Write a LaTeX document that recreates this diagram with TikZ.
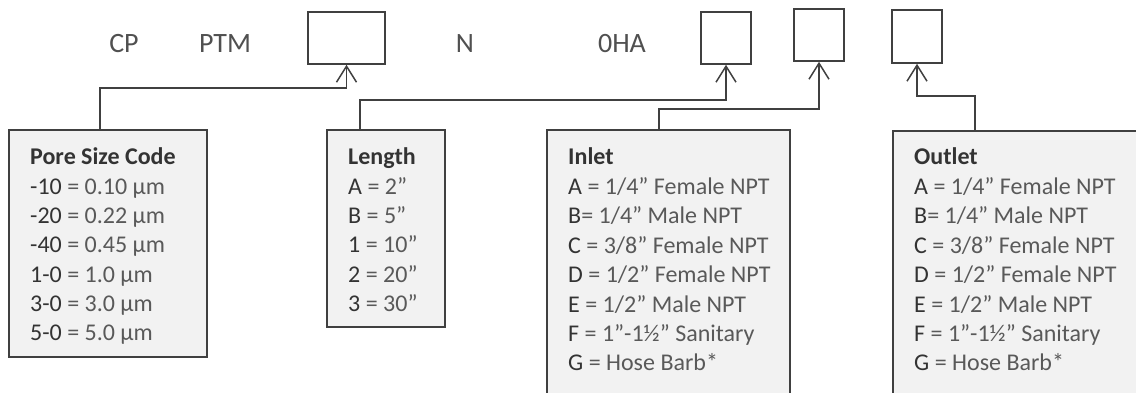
\documentclass[tikz,border=0pt]{standalone}
\usepackage{fontspec}
\setmainfont{Carlito}
\usetikzlibrary{arrows.meta}
\definecolor{edgec}{HTML}{404040}
\definecolor{fillc}{HTML}{F2F2F2}
\definecolor{codec}{HTML}{333333}
\definecolor{valc}{HTML}{595959}
\definecolor{topc}{HTML}{505050}
\newcommand\cd[1]{\textcolor{codec}{#1}}
\begin{document}
\begin{tikzpicture}[x=1pt,y=-1pt,
  slot/.style={draw=edgec, line width=1.6pt, fill=white, inner sep=0pt, minimum width=50pt, minimum height=52pt},
  legend/.style={draw=edgec, line width=1.6pt, fill=fillc, inner sep=0pt},
  entry/.style={font=\fontsize{24}{29}\selectfont, text=valc, anchor=base west, inner sep=0pt},
  head/.style={font=\bfseries\fontsize{24}{29}\selectfont, text=codec, anchor=base west, inner sep=0pt},
  toplabel/.style={font=\fontsize{28}{34}\selectfont, text=topc, anchor=base, inner sep=0pt},
  arr/.style={draw=edgec, line width=1.5pt, -{Straight Barb[length=16pt,width=20pt]}}]
\useasboundingbox (0,0) rectangle (1136,393);
\clip (0,0) rectangle (1136,393);
% top code line
\node[toplabel] (cp) at (124,53) {CP};
\node[toplabel] (ptm) at (225,53) {PTM};
\node[toplabel] (n) at (465,53) {N};
\node[toplabel] (oha) at (622,53) {0HA};
\node[slot, minimum width=77pt] (b1) at (346.5,38) {};
\node[slot] (b2) at (726,38) {};
\node[slot] (b3) at (819,35) {};
\node[slot, minimum height=53pt] (b4) at (917,36.5) {};
% legend boxes
\node[legend, minimum width=198pt, minimum height=227pt] (pore) at (108,243.5) {};
\node[legend, minimum width=118pt, minimum height=197pt] (len) at (386,228.5) {};
\node[legend, minimum width=243pt, minimum height=290pt] (inlet) at (668.5,275) {};
\node[legend, minimum width=270pt, minimum height=290pt] (outlet) at (1028,276) {};
% texts
\node[head] (pt) at (30,165) {Pore Size Code};
\foreach \t [count=\i] in {{\cd{-10} = 0.10 µm},{\cd{-20} = 0.22 µm},{\cd{-40} = 0.45 µm},{\cd{1-0} = 1.0 µm},{\cd{3-0} = 3.0 µm},{\cd{5-0} = 5.0 µm}}
  \node[entry] (p\i) at (30,{165+29.3*\i}) {\t};
\node[head] (lt) at (348,165) {Length};
\foreach \t [count=\i] in {{\cd{A} = 2”},{\cd{B} = 5”},{\cd{1} = 10”},{\cd{2} = 20”},{\cd{3} = 30”}}
  \node[entry] (l\i) at (348,{165+29.3*\i}) {\t};
\node[head] (it) at (568,165) {Inlet};
\foreach \t [count=\i] in {{\cd{A} = 1/4” Female NPT},{\cd{B}= 1/4” Male NPT},{\cd{C} = 3/8” Female NPT},{\cd{D} = 1/2” Female NPT},{\cd{E} = 1/2” Male NPT},{\cd{F} = 1”-1½” Sanitary},{\cd{G} = Hose Barb*}}
  \node[entry] (i\i) at (568,{165+29.4*\i}) {\t};
\node[head] (ot) at (914,165) {Outlet};
\foreach \t [count=\i] in {{\cd{A} = 1/4” Female NPT},{\cd{B}= 1/4” Male NPT},{\cd{C} = 3/8” Female NPT},{\cd{D} = 1/2” Female NPT},{\cd{E} = 1/2” Male NPT},{\cd{F} = 1”-1½” Sanitary},{\cd{G} = Hose Barb*}}
  \node[entry] (o\i) at (914,{165+29.4*\i}) {\t};
% connectors
\draw[arr] ([xshift=-8pt]pore.north) -- ++(0,-41) -| (b1.south);
\draw[arr] ([xshift=-26pt]len.north) -- ++(0,-29) -| (b2.south);
\draw[arr] ([xshift=-9.5pt]inlet.north) -- ++(0,-20) -| (b3.south);
\draw[arr] ([xshift=-53pt]outlet.north) -- ++(0,-34) -| (b4.south);
\end{tikzpicture}
\end{document}
